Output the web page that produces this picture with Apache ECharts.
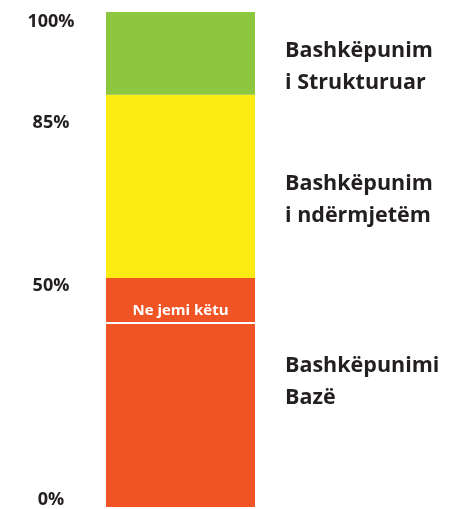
<!DOCTYPE html>
<html>
<head>
<meta charset="utf-8">
<script src="https://cdn.jsdelivr.net/npm/echarts@6/dist/echarts.min.js"></script>
<style>html,body{margin:0;padding:0;background:#fff;}#c{width:471px;height:509px;}</style>
</head>
<body>
<div id="c"></div>
<script>
// Segment spans of the schematic bar (as drawn, bottom to top)
const levelNames = ['Bashkëpunimi\nBazë', 'Bashkëpunim\ni ndërmjetëm', 'Bashkëpunim\ni Strukturuar'];
const levelSpans = [230, 184, 83];
const levelColors = ['#F05424', '#FCEC14', '#8DC63F'];
// Left tick labels and their positions on the drawn scale
const tickLabels = ['0%', '50%', '85%', '100%'];
const tickPositions = [7, 222, 386, 487];
// "We are here" marker
const markerLabel = 'Ne jemi këtu';
const markerValue = 185;

const total = levelSpans.reduce((a, b) => a + b, 0);
const labelOffsets = [[0, -11], [0, 14], [0, 14]];
const font = '"Open Sans", sans-serif';

const series = levelSpans.map((v, i) => ({
  type: 'bar',
  stack: 'all',
  barWidth: '100%',
  data: [v],
  itemStyle: { color: levelColors[i] },
  label: {
    show: true,
    position: 'right',
    distance: 30,
    offset: labelOffsets[i],
    formatter: levelNames[i],
    fontFamily: font,
    fontWeight: 'bold',
    fontSize: 21.5,
    lineHeight: 32,
    color: '#231F20',
    align: 'left'
  },
  markLine: i === 0 ? {
    silent: true,
    symbol: ['none', 'none'],
    lineStyle: { color: '#ffffff', width: 2, type: 'solid' },
    label: {
      show: true,
      position: 'insideMiddleTop',
      formatter: markerLabel,
      color: '#ffffff',
      fontFamily: font,
      fontWeight: 'bold',
      fontSize: 15,
      distance: 4
    },
    data: [{ yAxis: markerValue }]
  } : undefined
}));

const chart = echarts.init(document.getElementById('c'), null, { renderer: 'canvas' });
chart.setOption({
  animation: false,
  grid: { left: 106, top: 12, width: 149, bottom: 0, containLabel: false },
  xAxis: { type: 'category', data: [''], show: false },
  yAxis: {
    type: 'value',
    min: 0,
    max: total,
    splitLine: { show: false },
    axisLine: { show: false },
    axisTick: { show: false },
    axisLabel: {
      customValues: tickPositions,
      formatter: (v) => {
        const idx = tickPositions.indexOf(v);
        return idx >= 0 ? tickLabels[idx] : '';
      },
      align: 'center',
      margin: 55,
      fontFamily: font,
      fontWeight: 'bold',
      fontSize: 18,
      color: '#231F20'
    }
  },
  series: series
});
</script>
</body>
</html>
